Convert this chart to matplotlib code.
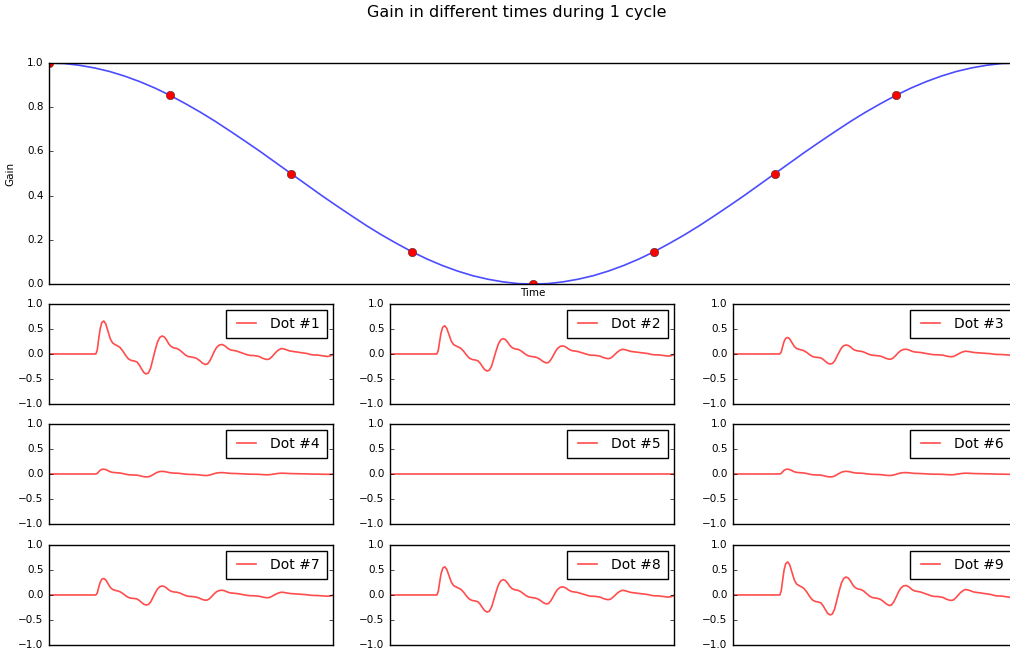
import matplotlib
matplotlib.use("Agg")
import matplotlib.pyplot as plt
import numpy as np

plt.style.use("classic")

# gain over the first half of the cycle (the second half mirrors it)
half_gain = [1.0, 0.998, 0.99, 0.978, 0.962, 0.941, 0.916, 0.887, 0.854,
             0.817, 0.778, 0.736, 0.691, 0.645, 0.598, 0.549, 0.5,
             0.451, 0.402, 0.355, 0.309, 0.264, 0.222, 0.183, 0.146,
             0.113, 0.084, 0.059, 0.038, 0.022, 0.01, 0.002, 0.0]
curve_gain = half_gain + half_gain[-2::-1]
curve_time = np.linspace(0, 1, len(curve_gain))

# the nine sample dots
dot_time = [0.0, 0.125, 0.25, 0.375, 0.5, 0.625, 0.75, 0.875, 1.0]
dot_gain = [1.0, 0.854, 0.5, 0.146, 0.0, 0.146, 0.5, 0.854, 1.0]
dot_names = ["Dot #%d" % (i + 1) for i in range(9)]

# base signal (the one at gain 1), read from "Dot #1"
wave_x = [0.0, 0.165, 0.17, 0.175, 0.18, 0.186, 0.193, 0.2, 0.208, 0.216,
          0.224, 0.232, 0.242, 0.25, 0.26, 0.27, 0.28, 0.29, 0.3, 0.31,
          0.318, 0.326, 0.334, 0.342, 0.35, 0.358, 0.366, 0.374, 0.382, 0.39,
          0.398, 0.406, 0.414, 0.422, 0.43, 0.44, 0.45, 0.46, 0.47, 0.48,
          0.49, 0.5, 0.51, 0.52, 0.53, 0.54, 0.55, 0.558, 0.566, 0.574,
          0.582, 0.59, 0.6, 0.61, 0.62, 0.63, 0.64, 0.65, 0.66, 0.67,
          0.68, 0.69, 0.7, 0.71, 0.72, 0.73, 0.74, 0.75, 0.76, 0.768,
          0.776, 0.784, 0.792, 0.8, 0.808, 0.818, 0.828, 0.838, 0.848, 0.86,
          0.872, 0.884, 0.896, 0.908, 0.92, 0.932, 0.944, 0.956, 0.968, 0.98,
          0.99, 1.0]
wave_y = [0.0, 0.0, 0.08, 0.3, 0.5, 0.63, 0.66, 0.6, 0.45, 0.3,
          0.22, 0.19, 0.16, 0.13, 0.06, -0.03, -0.1, -0.13, -0.14, -0.16,
          -0.22, -0.3, -0.37, -0.4, -0.38, -0.28, -0.1, 0.08, 0.24, 0.33,
          0.36, 0.34, 0.28, 0.2, 0.15, 0.12, 0.11, 0.08, 0.03, -0.02,
          -0.05, -0.06, -0.07, -0.09, -0.13, -0.18, -0.21, -0.2, -0.14, -0.05,
          0.05, 0.13, 0.18, 0.19, 0.16, 0.11, 0.08, 0.07, 0.06, 0.04,
          0.02, 0.0, -0.02, -0.03, -0.03, -0.04, -0.05, -0.08, -0.1, -0.11,
          -0.1, -0.06, -0.01, 0.04, 0.08, 0.11, 0.1, 0.08, 0.06, 0.05,
          0.04, 0.03, 0.02, 0.01, -0.01, -0.02, -0.02, -0.03, -0.04, -0.05,
          -0.04, -0.01]
wave_y = np.array(wave_y)

fig = plt.figure(figsize=(10.1, 6.54), dpi=100, facecolor="white")
fig.suptitle("Gain in different times during 1 cycle", fontsize=11.5,
             x=0.512, y=0.993)

ax = fig.add_axes([0.0485, 0.5657, 0.9584, 0.3379])
ax.plot(curve_time, curve_gain, color="b", alpha=0.7, lw=1.2)
ax.plot(dot_time, dot_gain, "o", color="r", mec="#663333", mew=0.5, ms=6)
ax.set_xlim(0, 1)
ax.set_ylim(0, 1)
ax.set_xticks([])
ax.set_yticks([0.0, 0.2, 0.4, 0.6, 0.8, 1.0])
ax.tick_params(labelsize=7.5, direction="in", length=3)
ax.set_xlabel("Time", fontsize=7.5, labelpad=3)
ax.set_ylabel("Gain", fontsize=7.5, labelpad=8)

lefts = [0.0485, 0.3861, 0.7257]
bottoms = [0.3823, 0.1988, 0.0138]
for i in range(9):
    r, c = divmod(i, 3)
    sub = fig.add_axes([lefts[c], bottoms[r], 0.2812, 0.1529])
    sub.plot(wave_x, dot_gain[i] * wave_y, color="r", alpha=0.7, lw=1.2,
             label=dot_names[i])
    sub.set_xlim(0, 1)
    sub.set_ylim(-1, 1)
    sub.set_xticks([])
    sub.set_yticks([-1.0, -0.5, 0.0, 0.5, 1.0])
    sub.tick_params(labelsize=7.5, direction="in", length=3)
    sub.legend(loc="upper right", fontsize=10, handlelength=2.0,
               handletextpad=0.7, borderpad=0.5, borderaxespad=0.45)

fig.savefig("out.png", dpi=100, facecolor="white")
